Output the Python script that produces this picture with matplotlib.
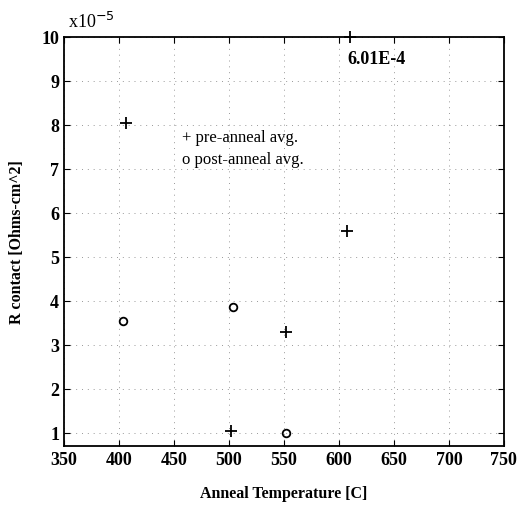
import matplotlib.pyplot as plt
import numpy as np

plt.rcParams['font.family'] = ['Liberation Serif', 'DejaVu Serif']

# anneal temperature [C] and contact resistance [x1e-5 Ohms-cm^2]
pre_temp = [406, 502, 552, 607, 610]
pre_r = [8.05, 1.05, 3.3, 5.6, 10.0]
post_temp = [404, 504, 552]
post_r = [3.55, 3.85, 1.0]

xticks = np.arange(350, 751, 50)
yticks = np.arange(1, 11, 1)

fig = plt.figure(figsize=(5.31, 5.10), dpi=100)
ax = fig.add_axes([0.1205, 0.1235, 0.8285, 0.802])

ax.plot(pre_temp, pre_r, '+', color='black', ms=8, mew=1.3, clip_on=False)
ax.plot(post_temp, post_r, 'o', mfc='none', mec='black', ms=5.5, mew=1.3)

ax.set_xlim(350, 750)
ax.set_ylim(0.7, 10)
ax.set_xticks(xticks)
ax.set_yticks(yticks)
ax.tick_params(direction='in', top=True, right=True, length=4, labelsize=13)
for lab in ax.get_xticklabels() + ax.get_yticklabels():
    lab.set_fontweight('bold')
ax.grid(True, linestyle=(0, (1, 5)), color='#999999', linewidth=0.7)
for s in ax.spines.values():
    s.set_linewidth(1.3)

ax.text(634, 9.52, '6.01E-4', fontsize=13, fontweight='bold', ha='center', va='center')
ax.text(457, 7.72, '+ pre-anneal avg.', fontsize=12, va='center')
ax.text(457, 7.22, 'o post-anneal avg.', fontsize=12, va='center')
ax.text(0.01, 1.015, r'x10$^{\mathrm{-5}}$', transform=ax.transAxes,
        fontsize=13, ha='left', va='bottom')

ax.set_xlabel('Anneal Temperature [C]', fontsize=11.5, fontweight='bold', labelpad=12)
ax.set_ylabel('R contact [Ohms-cm^2]', fontsize=11.5, fontweight='bold', labelpad=12)

fig.savefig('out.png', dpi=100)
